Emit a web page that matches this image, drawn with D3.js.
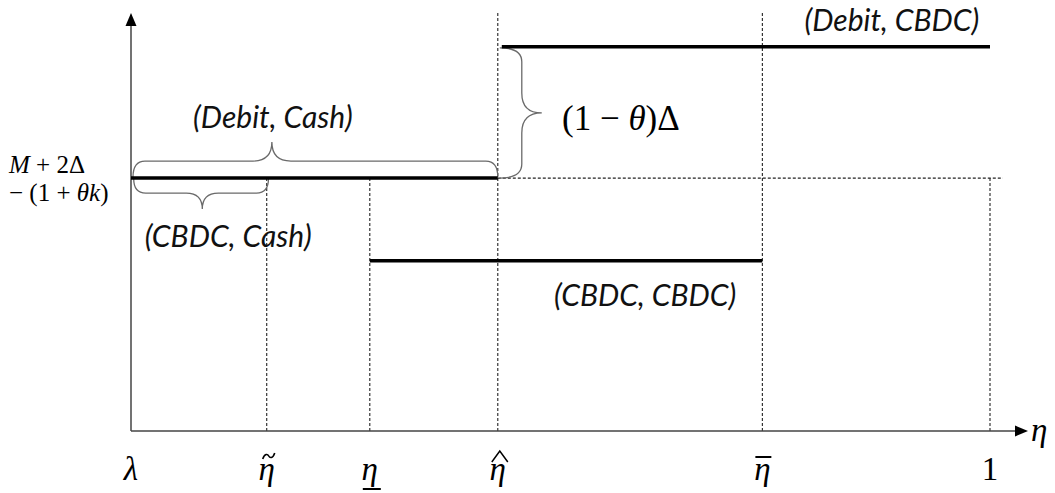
<!DOCTYPE html>
<html><head><meta charset="utf-8">
<script src="https://cdn.jsdelivr.net/npm/d3@7"></script>
<style>body{margin:0;background:#fff}</style>
</head><body><svg id="c" width="1055" height="493"></svg>
<script>
// ---- data ----
const tickLabels = ["λ", "η", "η", "η", "η", "1"];
const tickAccents = ["", "tilde", "under", "hat", "bar", ""];
const tickValues = [0, 0.158, 0.278, 0.427, 0.735, 1];
const guideTops  = [0, 0.605, 0.605, 1, 1, 0.605];   // top of dashed guide per tick (0 = none)
const segLabels = ["(Debit, Cash)", "(Debit, CBDC)", "(CBDC, CBDC)"];
const segStart  = [0, 0.427, 0.278];
const segEnd    = [0.427, 1, 0.735];
const segLevel  = [0.605, 0.919, 0.407];
const refLevel = 0.605, refStart = 0.427, refEnd = 1.015;
const cashBrace = {label: "(CBDC, Cash)", x0: 0.002, x1: 0.16, tip: 0.083};
const debitCashTip = 0.164;
const gapTip = 0.761;

// ---- setup ----
const svg = d3.select("#c");
svg.append("rect").attr("width",1055).attr("height",493).attr("fill","#fff");
const x = d3.scaleLinear().domain([0,1]).range([131,990]);
const y = d3.scaleLinear().domain([0,1]).range([431,13]);
const serif = "'Liberation Serif', 'DejaVu Serif', serif";
const sans = "Lato, 'Open Sans', sans-serif";

// dashed guides
const dash = svg.append("g").attr("stroke","#222").attr("stroke-width",1.1).attr("stroke-dasharray","3,2");
tickValues.forEach((v,i)=>{
  if (guideTops[i] > 0) dash.append("line").attr("x1",x(v)).attr("x2",x(v)).attr("y1",y(guideTops[i])).attr("y2",y(0));
});
dash.append("line").attr("x1",x(refStart)).attr("x2",x(refEnd)).attr("y1",y(refLevel)).attr("y2",y(refLevel));

// axes
const ax = svg.append("g").attr("stroke","#444").attr("stroke-width",1.5);
ax.append("line").attr("x1",x(0)).attr("x2",x(0)).attr("y1",y(0)).attr("y2",y(1)+10);
ax.append("line").attr("x1",x(0)).attr("x2",1018).attr("y1",y(0)).attr("y2",y(0));
svg.append("path").attr("fill","#000")
  .attr("d",`M${x(0)},${y(1)} l-5.5,13 l11,0 z`);
svg.append("path").attr("fill","#000")
  .attr("d",`M1028,${y(0)} l-13,-5.5 l0,11 z`);

// tick labels
const tl = svg.append("g");
tl.selectAll("text").data(tickLabels).join("text")
  .attr("x",(d,i)=>x(tickValues[i])).attr("y",480)
  .attr("text-anchor","middle")
  .attr("font-family",serif).attr("font-size",33)
  .attr("font-style",(d,i)=> i===5 ? "normal" : "italic")
  .text(d=>d);
tickAccents.forEach((a,i)=>{
  const cx = x(tickValues[i]) + 2;
  const p = tl.append("path").attr("fill","none").attr("stroke","#000").attr("stroke-width",1.6);
  if (a==="tilde") p.attr("d",`M${cx-6},${459} C${cx-4},${453} ${cx-1},${454} ${cx},${456} S${cx+4},${459} ${cx+6},${453}`);
  else if (a==="hat") p.attr("d",`M${cx-8},${462} L${cx},${451} L${cx+8},${462}`).attr("stroke-width",1.5);
  else if (a==="bar") p.attr("d",`M${cx-9},${457} L${cx+7},${457}`).attr("stroke-width",2);
  else if (a==="under") p.attr("d",`M${cx-9},${489} L${cx+9},${489}`).attr("stroke-width",2);
  else p.remove();
});
svg.append("text").attr("x",1031).attr("y",441).attr("font-family",serif)
  .attr("font-size",33).attr("font-style","italic").text("η");

// y label
const yl = svg.append("text").attr("font-family",serif).attr("font-size",25).attr("fill","#000");
yl.append("tspan").attr("x",9).attr("y",173).attr("font-style","italic").text("M");
yl.append("tspan").text(" + 2Δ");
const yl2 = svg.append("text").attr("font-family",serif).attr("font-size",25);
yl2.append("tspan").attr("x",9).attr("y",201).text("− (1 + ");
yl2.append("tspan").attr("font-style","italic").text("θk");
yl2.append("tspan").text(")");

// braces
function braceH(x1,x2,y0,xt,dB,dT,dir){
  const yb=y0+dir*dB, yt=y0+dir*dT, r=Math.min(dB,12), rt=dT-dB;
  return `M${x1},${y0} Q${x1},${yb} ${x1+r},${yb} L${xt-rt},${yb} Q${xt},${yb} ${xt},${yt} Q${xt},${yb} ${xt+rt},${yb} L${x2-r},${yb} Q${x2},${yb} ${x2},${y0}`;
}
function braceV(y1,y2,x0,yt,dB,dT){
  const xb=x0+dB, xt=x0+dT, r=Math.min(dB,14), rt=dT-dB;
  return `M${x0},${y1} Q${xb},${y1} ${xb},${y1+r} L${xb},${yt-rt} Q${xb},${yt} ${xt},${yt} Q${xb},${yt} ${xb},${yt+rt} L${xb},${y2-r} Q${xb},${y2} ${x0},${y2}`;
}
const br = svg.append("g").attr("fill","none").attr("stroke","#6a6a6a").attr("stroke-width",1.3);
br.append("path").attr("d",braceH(x(0)+2,x(segEnd[0]),y(segLevel[0])-1,x(debitCashTip),16,35,-1));
br.append("path").attr("d",braceH(x(cashBrace.x0)+1,x(cashBrace.x1),y(refLevel)+1,x(cashBrace.tip),14,30,1));
br.append("path").attr("d",braceV(y(segLevel[1])+1,y(segLevel[0]),x(segStart[1])+2,y(gapTip),22,42));

// segments
svg.append("g").selectAll("line").data(segLevel).join("line")
  .attr("x1",(d,i)=>x(segStart[i])+(i===1?4:0)).attr("x2",(d,i)=>x(segEnd[i]))
  .attr("y1",d=>y(d)).attr("y2",d=>y(d))
  .attr("stroke","#000").attr("stroke-width",3.5);

// labels
const lab = svg.append("g").attr("font-family",sans).attr("font-style","italic").attr("font-size",30).attr("fill","#111");
lab.append("text").attr("x",x(debitCashTip)+1).attr("y",128).attr("text-anchor","middle").text(segLabels[0]);
lab.append("text").attr("x",(x(segStart[1])+x(segEnd[1]))/2+148).attr("y",31).attr("text-anchor","middle").text(segLabels[1]);
lab.append("text").attr("x",(x(segStart[2])+x(segEnd[2]))/2+79).attr("y",306).attr("text-anchor","middle").text(segLabels[2]);
lab.append("text").attr("x",x(cashBrace.x0)+12).attr("y",247).text(cashBrace.label);

const g = svg.append("text").attr("x",562).attr("y",130).attr("font-family",serif).attr("font-size",35);
g.append("tspan").text("(1 − ");
g.append("tspan").attr("font-style","italic").text("θ");
g.append("tspan").text(")Δ");
</script></body></html>
